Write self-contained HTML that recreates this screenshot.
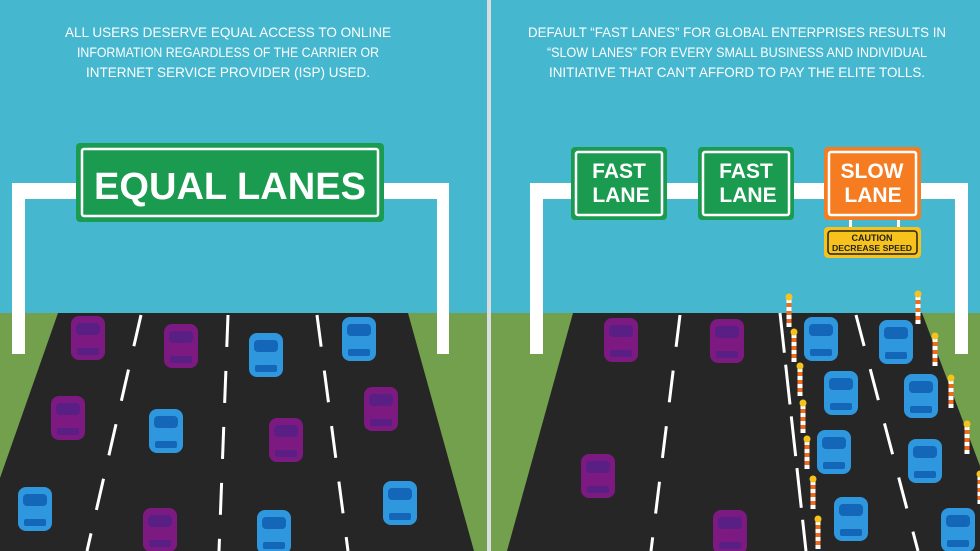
<!DOCTYPE html>
<html><head><meta charset="utf-8"><style>
html,body{margin:0;padding:0;background:#45b8cf;}
svg{display:block}
text{font-family:"Liberation Sans",sans-serif;}
</style></head><body>
<svg width="980" height="551" viewBox="0 0 980 551" xmlns="http://www.w3.org/2000/svg">
<defs>
<g id="cp">
 <rect x="-17" y="-22" width="34" height="44" rx="8" fill="#7d1a82"/>
 <rect x="-12" y="-15" width="24" height="12" rx="4" fill="#5a1f85"/>
 <rect x="-11" y="10" width="22" height="7" rx="2" fill="#5a1f85"/>
</g>
<g id="cb">
 <rect x="-17" y="-22" width="34" height="44" rx="8" fill="#2f97dd"/>
 <rect x="-12" y="-15" width="24" height="12" rx="4" fill="#1466b8"/>
 <rect x="-11" y="10" width="22" height="7" rx="2" fill="#1466b8"/>
</g>
<g id="cone">
 <rect x="-2.5" y="-14" width="5" height="28" fill="#fff"/>
 <rect x="-2.5" y="-10" width="5" height="4" fill="#f26b1d"/>
 <rect x="-2.5" y="-2" width="5" height="4" fill="#f26b1d"/>
 <rect x="-2.5" y="6" width="5" height="4" fill="#f26b1d"/>
 <circle cx="0" cy="-16" r="3.5" fill="#f7c21b"/>
</g>
</defs>
<rect x="0" y="0" width="980" height="551" fill="#45b8cf"/>
<rect x="0" y="313" width="980" height="238" fill="#72a04c"/>
<rect x="487" y="0" width="4" height="551" fill="#d9dde0"/>

<text fill="#fff" font-size="14" text-anchor="middle"><tspan x="228" y="37" textLength="326" lengthAdjust="spacingAndGlyphs">ALL USERS DESERVE EQUAL ACCESS TO ONLINE</tspan><tspan x="228" y="57" textLength="302" lengthAdjust="spacingAndGlyphs">INFORMATION REGARDLESS OF THE CARRIER OR</tspan><tspan x="228" y="77" textLength="284" lengthAdjust="spacingAndGlyphs">INTERNET SERVICE PROVIDER (ISP) USED.</tspan></text>
<path d="M12 354 V183 H449 V354 H437 V199 H25 V354 Z" fill="#fff"/>
<rect x="76" y="143" width="308" height="79" rx="4" fill="#1a9b50"/>
<rect x="82" y="149" width="296" height="67" rx="2" fill="none" stroke="#fff" stroke-width="2.5"/>
<text x="230" y="199" fill="#fff" font-size="38" font-weight="bold" text-anchor="middle" textLength="272" lengthAdjust="spacingAndGlyphs">EQUAL LANES</text>
<polygon points="58,313 408,313 474,551 0,551 0,478" fill="#262626"/>
<g stroke="#fff" stroke-width="3" stroke-dasharray="32 24">
<line x1="141" y1="315" x2="87" y2="551"/>
<line x1="228" y1="315" x2="219" y2="551"/>
<line x1="317" y1="315" x2="348" y2="551"/>
</g>
<use href="#cp" x="88" y="338"/>
<use href="#cp" x="181" y="346"/>
<use href="#cb" x="266" y="355"/>
<use href="#cb" x="359" y="339"/>
<use href="#cp" x="68" y="418"/>
<use href="#cb" x="166" y="431"/>
<use href="#cp" x="286" y="440"/>
<use href="#cp" x="381" y="409"/>
<use href="#cb" x="35" y="509"/>
<use href="#cp" x="160" y="530"/>
<use href="#cb" x="274" y="532"/>
<use href="#cb" x="400" y="503"/>

<text fill="#fff" font-size="14" text-anchor="middle"><tspan x="737" y="37" textLength="418" lengthAdjust="spacingAndGlyphs">DEFAULT “FAST LANES” FOR GLOBAL ENTERPRISES RESULTS IN</tspan><tspan x="737" y="57" textLength="380" lengthAdjust="spacingAndGlyphs">“SLOW LANES” FOR EVERY SMALL BUSINESS AND INDIVIDUAL</tspan><tspan x="737" y="77" textLength="376" lengthAdjust="spacingAndGlyphs">INITIATIVE THAT CAN’T AFFORD TO PAY THE ELITE TOLLS.</tspan></text>
<path d="M530 354 V183 H968 V354 H955 V199 H543 V354 Z" fill="#fff"/>
<g>
<rect x="571" y="147" width="96" height="73" rx="4" fill="#1a9b50"/>
<rect x="576" y="152" width="86" height="63" rx="2" fill="none" stroke="#fff" stroke-width="2.5"/>
<text x="619" y="178" fill="#fff" font-size="21" font-weight="bold" text-anchor="middle">FAST</text>
<text x="621" y="202" fill="#fff" font-size="21" font-weight="bold" text-anchor="middle">LANE</text>
<rect x="698" y="147" width="96" height="73" rx="4" fill="#1a9b50"/>
<rect x="703" y="152" width="86" height="63" rx="2" fill="none" stroke="#fff" stroke-width="2.5"/>
<text x="746" y="178" fill="#fff" font-size="21" font-weight="bold" text-anchor="middle">FAST</text>
<text x="748" y="202" fill="#fff" font-size="21" font-weight="bold" text-anchor="middle">LANE</text>
<rect x="849" y="219" width="3" height="9" fill="#fff"/>
<rect x="897" y="219" width="3" height="9" fill="#fff"/>
<rect x="824" y="147" width="97" height="73" rx="4" fill="#f57c20"/>
<rect x="829" y="152" width="87" height="63" rx="2" fill="none" stroke="#fff" stroke-width="2.5"/>
<text x="872" y="178" fill="#fff" font-size="21" font-weight="bold" text-anchor="middle">SLOW</text>
<text x="873" y="202" fill="#fff" font-size="21" font-weight="bold" text-anchor="middle">LANE</text>
<rect x="824" y="227" width="97" height="31" rx="4" fill="#f7c21b"/>
<rect x="828" y="231" width="89" height="23" rx="3" fill="none" stroke="#222" stroke-width="1.5"/>
<text x="872" y="241" fill="#222" font-size="9" font-weight="bold" text-anchor="middle">CAUTION</text>
<text x="872" y="251" fill="#222" font-size="8" font-weight="bold" text-anchor="middle" textLength="80" lengthAdjust="spacingAndGlyphs">DECREASE SPEED</text>
</g>
<polygon points="573,313 922,313 980,466 980,551 507,551" fill="#262626"/>
<g stroke="#fff" stroke-width="3" stroke-dasharray="32 24">
<line x1="680" y1="315" x2="651" y2="551"/>
<line x1="856" y1="315" x2="918" y2="551"/>
</g>
<line x1="780" y1="313" x2="806" y2="551" stroke="#fff" stroke-width="3" stroke-dasharray="40 12"/>
<use href="#cp" x="621" y="340"/>
<use href="#cp" x="727" y="341"/>
<use href="#cp" x="598" y="476"/>
<use href="#cp" x="730" y="532"/>
<use href="#cb" x="821" y="339"/>
<use href="#cb" x="896" y="342"/>
<use href="#cb" x="841" y="393"/>
<use href="#cb" x="921" y="396"/>
<use href="#cb" x="834" y="452"/>
<use href="#cb" x="925" y="461"/>
<use href="#cb" x="851" y="519"/>
<use href="#cb" x="958" y="530"/>
<use href="#cone" x="789" y="313"/>
<use href="#cone" x="794" y="348"/>
<use href="#cone" x="800" y="382"/>
<use href="#cone" x="803" y="419"/>
<use href="#cone" x="807" y="455"/>
<use href="#cone" x="813" y="495"/>
<use href="#cone" x="818" y="535"/>
<use href="#cone" x="918" y="310"/>
<use href="#cone" x="935" y="352"/>
<use href="#cone" x="951" y="394"/>
<use href="#cone" x="967" y="440"/>
<use href="#cone" x="980" y="490"/>
</svg>
</body></html>
